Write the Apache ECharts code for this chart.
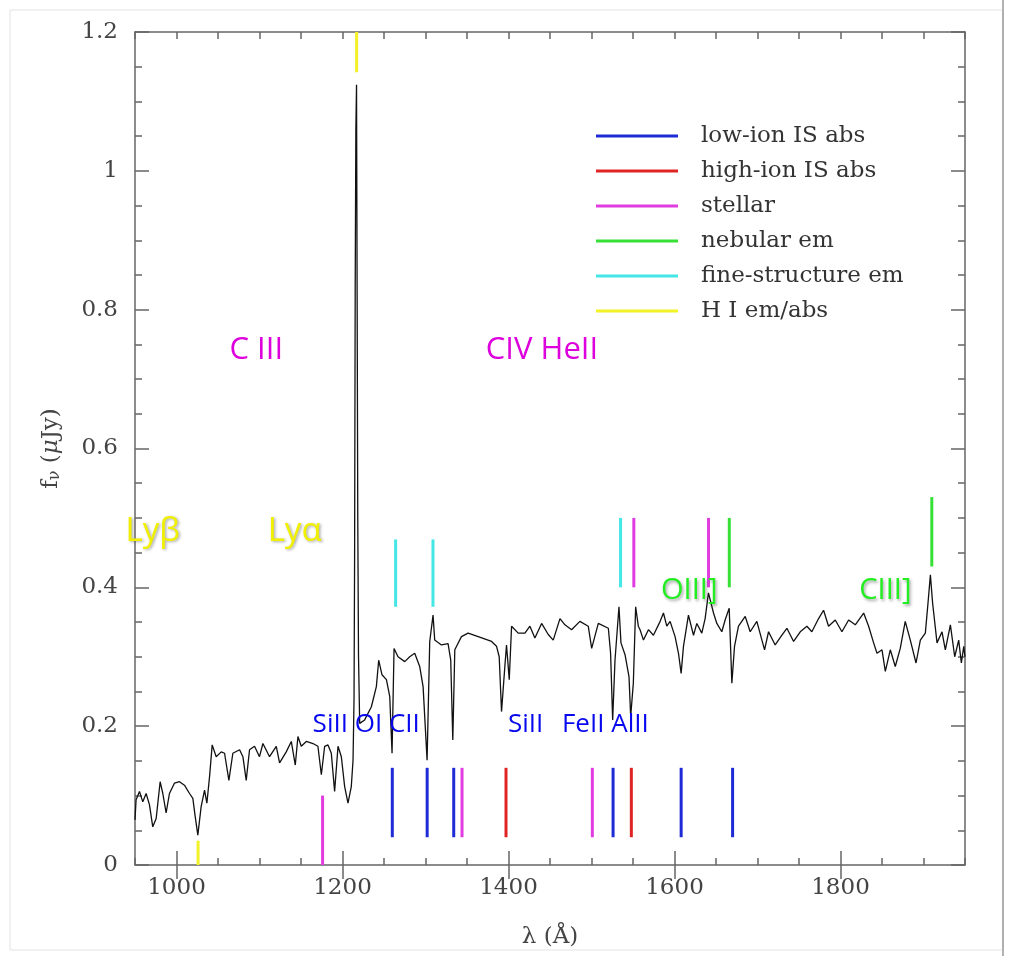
<!DOCTYPE html>
<html>
<head>
<meta charset="utf-8">
<script src="https://cdn.jsdelivr.net/npm/echarts@6/dist/echarts.min.js"></script>
<style>
  html, body { margin: 0; padding: 0; background: #fff; }
  #chart { width: 1016px; height: 956px; }
</style>
</head>
<body>
<div id="chart"></div>
<script>
// spectrum (wavelength in A, flux in uJy)
const wavelength = [
  950, 951.3, 955.4, 959.4, 963.4, 967.4, 971.4, 975.5, 980.3, 983.5, 987.5, 991.5, 997.6,
  1003.6, 1009.6, 1015.7, 1019.7, 1022.5, 1025.7, 1029.7, 1033.8, 1036.6, 1039.8, 1043, 1047.8,
  1053.9, 1057.9, 1063.1, 1067.9, 1076, 1080, 1084, 1088, 1094, 1100, 1104.1, 1112.1, 1120.2,
  1124.2, 1132.2, 1138.3, 1143.1, 1146.3, 1150.3, 1156.4, 1164.4, 1170.4, 1174.5, 1178.5,
  1182.5, 1186.5, 1190.5, 1194.6, 1198.6, 1202.6, 1206.6, 1210.6, 1212.7, 1213.9, 1214.6,
  1215.3, 1216.1, 1216.9, 1217.6, 1218.4, 1219.3, 1220.7, 1226.7, 1234.8, 1240.8, 1243.6,
  1247.6, 1252.9, 1256.9, 1259.7, 1262.1, 1266.9, 1275, 1281, 1287, 1293, 1297.1, 1301.9,
  1305.1, 1309.1, 1311.1, 1319.2, 1327.2, 1330.4, 1332.9, 1335.3, 1343.3, 1351.3, 1363.5,
  1379.6, 1385.6, 1388.8, 1391.6, 1395.6, 1397.6, 1400.9, 1403.7, 1411.7, 1419.8, 1425.8,
  1431.8, 1439.9, 1447.9, 1453.9, 1462, 1468, 1476, 1486, 1496.1, 1500.2, 1508.2, 1520.3,
  1523, 1525.5, 1528.3, 1533.1, 1535.5, 1540.4, 1545.2, 1547.2, 1550.4, 1553.2, 1556.4,
  1558.5, 1562.6, 1568.6, 1574.6, 1582.7, 1586.7, 1590.7, 1594.7, 1600.7, 1604.8, 1608,
  1610.8, 1616.8, 1622.9, 1626.9, 1632.9, 1636.9, 1640.9, 1647, 1651, 1657, 1661, 1665.9,
  1669.1, 1672.3, 1677.1, 1685.2, 1691.2, 1699.2, 1708.5, 1713.3, 1721.3, 1729.4, 1735.4,
  1743.5, 1751.5, 1759.5, 1765.5, 1773.6, 1779.6, 1785.6, 1793.7, 1801.7, 1809.8, 1817.8,
  1827.9, 1833.9, 1839.9, 1844, 1850, 1854, 1860, 1866, 1872, 1878, 1884.1, 1891, 1896.2,
  1902.2, 1905.4, 1908.3, 1911, 1916.3, 1922.3, 1926.3, 1932.4, 1937.6, 1942.4, 1945.6,
  1948.5, 1950
];
const flux = [
  0.065, 0.094, 0.106, 0.091, 0.103, 0.087, 0.055, 0.067, 0.120, 0.103, 0.075, 0.103, 0.118,
  0.120, 0.115, 0.103, 0.096, 0.070, 0.043, 0.084, 0.108, 0.089, 0.127, 0.173, 0.156,
  0.163, 0.161, 0.122, 0.161, 0.166, 0.156, 0.122, 0.166, 0.171, 0.156, 0.175, 0.156, 0.171,
  0.147, 0.163, 0.178, 0.144, 0.185, 0.171, 0.178, 0.175, 0.171, 0.130, 0.171,
  0.173, 0.161, 0.106, 0.171, 0.156, 0.113, 0.089, 0.113, 0.151, 0.24, 0.45,
  0.83, 1.06, 1.124, 0.83, 0.50, 0.30, 0.204, 0.209, 0.228, 0.257, 0.295,
  0.274, 0.267, 0.243, 0.161, 0.312, 0.300, 0.293, 0.300, 0.305, 0.286, 0.257, 0.151,
  0.322, 0.360, 0.324, 0.317, 0.319, 0.295, 0.180, 0.310, 0.329, 0.334, 0.329,
  0.322, 0.315, 0.300, 0.221, 0.286, 0.317, 0.267, 0.344, 0.334, 0.334, 0.344,
  0.327, 0.348, 0.332, 0.324, 0.355, 0.346, 0.339, 0.351, 0.344, 0.312, 0.348, 0.341,
  0.305, 0.209, 0.295, 0.372, 0.320, 0.303, 0.271, 0.214, 0.262, 0.372, 0.344,
  0.339, 0.324, 0.339, 0.331, 0.351, 0.363, 0.344, 0.351, 0.329, 0.305, 0.276,
  0.315, 0.360, 0.331, 0.348, 0.334, 0.355, 0.392, 0.363, 0.348, 0.336, 0.353, 0.370,
  0.262, 0.315, 0.344, 0.358, 0.336, 0.351, 0.310, 0.336, 0.317, 0.331, 0.341,
  0.322, 0.336, 0.344, 0.336, 0.355, 0.367, 0.344, 0.353, 0.336, 0.353, 0.346,
  0.363, 0.344, 0.320, 0.305, 0.310, 0.279, 0.310, 0.286, 0.312, 0.351, 0.324, 0.291, 0.324,
  0.334, 0.377, 0.418, 0.377, 0.320, 0.336, 0.310, 0.346, 0.300, 0.324, 0.291,
  0.315, 0.300
];

// line identifications: [wavelength, flux from, flux to]
const lowIonLines = [[1260, 0.04, 0.14], [1302, 0.04, 0.14], [1334, 0.04, 0.14],
  [1526, 0.04, 0.14], [1608, 0.04, 0.14], [1670, 0.04, 0.14]];
const highIonLines = [[1397, 0.04, 0.14], [1548, 0.04, 0.14]];
const stellarLines = [[1176, 0, 0.10], [1344, 0.04, 0.14], [1501, 0.04, 0.14],
  [1551, 0.40, 0.50], [1641, 0.40, 0.50]];
const nebularLines = [[1666, 0.40, 0.50], [1910, 0.43, 0.53]];
const fineLines = [[1264, 0.372, 0.469], [1309, 0.372, 0.469], [1535, 0.40, 0.50]];
const hiLines = [[1026, 0, 0.035], [1217, 1.142, 1.2]];

const xLabelValues = [1000, 1200, 1400, 1600, 1800];

// labels written on the plot: [text, wavelength at left edge, flux at middle]
const labelsHI = [['Lyβ', 938.5, 0.481], ['Lyα', 1109.8, 0.481]];
const labelsStellar = [['C III', 1063.9, 0.741], ['CIV HeII', 1372.7, 0.741]];
const labelsLowIon = [['SiII OI CII', 1164, 0.202], ['SiII', 1399.3, 0.202], ['FeII AlII', 1464.4, 0.202]];
const labelsNebular = [['OIII]', 1583.8, 0.395], ['CIII]', 1822.7, 0.395]];

const chart = echarts.init(document.getElementById('chart'));

const axisColor = '#666';
const serif = 'DejaVu Serif';

function markerSeries(name, color, data) {
  return {
    name: name,
    type: 'custom',
    xAxisIndex: 0,
    yAxisIndex: 0,
    itemStyle: { color: color },
    data: data,
    renderItem: function (params, api) {
      const p0 = api.coord([api.value(0), api.value(1)]);
      const p1 = api.coord([api.value(0), api.value(2)]);
      return {
        type: 'line',
        shape: { x1: p0[0], y1: p0[1], x2: p1[0], y2: p1[1] },
        style: { stroke: color, lineWidth: 3 }
      };
    }
  };
}

function xAxisBase(position) {
  return {
    type: 'value',
    position: position,
    min: 950,
    max: 1950,
    splitLine: { show: false },
    axisLine: { show: false },
    axisLabel: { show: false },
    axisTick: { show: false }
  };
}

const minorX = (pos) => Object.assign(xAxisBase(pos), {
  interval: 50,
  axisLine: { show: true, onZero: false, lineStyle: { color: axisColor, width: 1.5 } },
  axisTick: { show: true, inside: true, length: 7, lineStyle: { color: axisColor, width: 1.5 } }
});
const majorX = (pos, labels) => Object.assign(xAxisBase(pos), {
  axisTick: { show: true, inside: true, length: 14, customValues: xLabelValues,
    lineStyle: { color: axisColor, width: 1.5 } },
  axisLabel: { show: labels, customValues: xLabelValues, margin: 12,
    formatter: (v) => String(v),
    fontFamily: serif, fontSize: 23, color: '#444' }
});

const yAxisSide = (pos, labels) => ({
  type: 'value',
  position: pos,
  min: 0,
  max: 1.2,
  interval: 0.2,
  splitLine: { show: false },
  axisLine: { show: true, onZero: false, lineStyle: { color: axisColor, width: 1.5 } },
  axisTick: { show: true, inside: true, length: 14, lineStyle: { color: axisColor, width: 1.5 } },
  minorTick: { show: true, splitNumber: 4, length: 7, lineStyle: { color: axisColor, width: 1.5 } },
  axisLabel: { show: labels, margin: 17, fontFamily: serif, fontSize: 23, color: '#444' }
});

const bottomLabelAxis = majorX('bottom', true);
bottomLabelAxis.name = 'λ (Å)';
bottomLabelAxis.nameLocation = 'middle';
bottomLabelAxis.nameGap = 61;
bottomLabelAxis.nameTextStyle = { fontFamily: serif, fontSize: 23, color: '#444' };

const leftAxis = yAxisSide('left', true);
leftAxis.name = '{t|f}{s|ν}{t| (}{i|μ}{t|Jy)}';
leftAxis.nameLocation = 'middle';
leftAxis.nameRotate = 90;
leftAxis.nameGap = 72;
leftAxis.nameTextStyle = {
  rich: {
    t: { fontFamily: serif, fontSize: 23, color: '#444' },
    s: { fontFamily: serif, fontSize: 16, color: '#444', verticalAlign: 'bottom', padding: [8, 0, 0, 0] },
    i: { fontFamily: serif, fontSize: 23, fontStyle: 'italic', color: '#444' }
  }
};

const option = {
  animation: false,
  backgroundColor: '#fff',
  grid: { left: 135, right: 51, top: 32, bottom: 91, containLabel: false },
  legend: {
    orient: 'vertical',
    left: 591,
    top: 118,
    itemWidth: 82,
    itemHeight: 3,
    itemGap: 9,
    icon: 'rect',
    selectedMode: false,
    textStyle: { fontFamily: serif, fontSize: 23, color: '#333', lineHeight: 26, padding: [0, 0, 0, 18] },
    data: ['low-ion IS abs', 'high-ion IS abs', 'stellar', 'nebular em', 'fine-structure em', 'H I em/abs']
  },
  xAxis: [minorX('bottom'), bottomLabelAxis, minorX('top'), majorX('top', false)],
  yAxis: [leftAxis, yAxisSide('right', false)],
  series: [
    {
      name: 'spectrum',
      type: 'line',
      xAxisIndex: 0,
      yAxisIndex: 0,
      data: wavelength.map((w, i) => [w, flux[i]]),
      showSymbol: false,
      lineStyle: { color: '#111', width: 1.3 },
      z: 3
    },
    markerSeries('low-ion IS abs', '#1e2ad6', lowIonLines),
    markerSeries('high-ion IS abs', '#e02424', highIonLines),
    markerSeries('stellar', '#e03ce0', stellarLines),
    markerSeries('nebular em', '#36e036', nebularLines),
    markerSeries('fine-structure em', '#44e6e6', fineLines),
    markerSeries('H I em/abs', '#f2f226', hiLines)
  ]
};

chart.setOption(option);

// colored identifications on top of the plot
const labelStyles = [
  { list: labelsHI, color: '#f0f000', size: 33, shadow: true },
  { list: labelsStellar, color: '#dd00dd', size: 31, shadow: false },
  { list: labelsLowIon, color: '#0808ee', size: 26, shadow: false },
  { list: labelsNebular, color: '#22ee22', size: 29, shadow: true }
];
const graphics = [
  { type: 'rect', shape: { x: 10, y: 10, width: 993, height: 940 }, silent: true,
    style: { fill: 'none', stroke: '#e2e2e2', lineWidth: 1 } },
  { type: 'line', shape: { x1: 1003, y1: 0, x2: 1003, y2: 956 }, silent: true,
    style: { stroke: '#9a9a9a', lineWidth: 1.5 } }
];
labelStyles.forEach(function (g) {
  g.list.forEach(function (l) {
    const p = chart.convertToPixel({ gridIndex: 0 }, [l[1], l[2]]);
    const st = {
      text: l[0], x: p[0], y: p[1], fill: g.color,
      font: g.size + 'px "Open Sans", "Noto Sans", sans-serif',
      textAlign: 'left', textVerticalAlign: 'middle'
    };
    if (g.shadow) {
      st.textShadowColor = 'rgba(60,60,60,0.45)';
      st.textShadowBlur = 3;
      st.textShadowOffsetX = 1.5;
      st.textShadowOffsetY = 1.5;
    }
    graphics.push({ type: 'text', silent: true, z: 10, style: st });
  });
});
chart.setOption({ graphic: graphics });
</script>
</body>
</html>
